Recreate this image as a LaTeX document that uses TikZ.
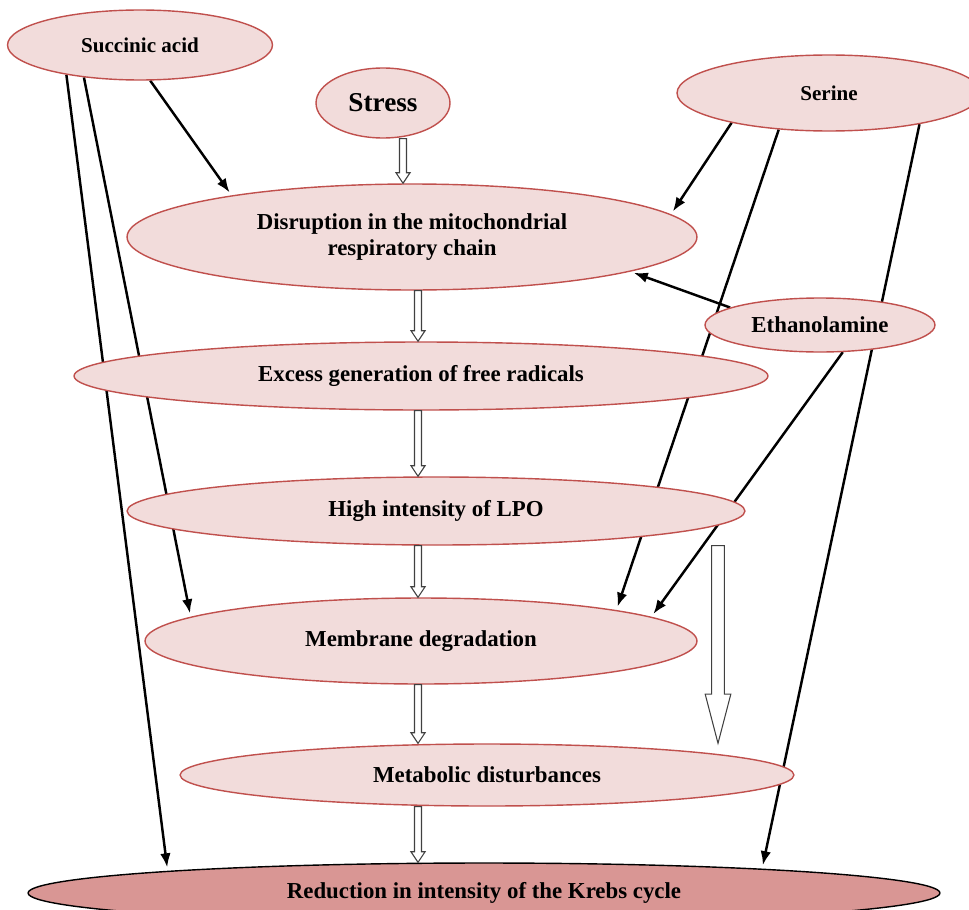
\documentclass[tikz,border=0pt]{standalone}
\usepackage{fontspec}
\setmainfont{Liberation Serif}
\usetikzlibrary{positioning,shapes.geometric,arrows.meta,calc,backgrounds}
\definecolor{bubfill}{HTML}{F2DCDB}
\definecolor{bubline}{HTML}{C0504D}
\definecolor{krebsfill}{HTML}{D99694}

\begin{document}
\begin{tikzpicture}[x=0.02cm, y=-0.02cm,
  bub/.style={ellipse, draw=bubline, fill=bubfill, line width=0.8pt, inner sep=0pt, align=center, font=\bfseries\fontsize{13}{15}\selectfont},
  krebs/.style={bub, draw=black, fill=krebsfill},
  blk/.style={-{Latex[length=8pt,width=6pt]}, line width=1.4pt, shorten >=2pt},
  harrow/.style args={#1/#2/#3}{draw=black!75, fill=white, line width=0.6pt,
    to path={let \p1=(\tikztostart), \p2=(\tikztotarget) in
      (\x1-#1,\y1) -- (\x1-#1,\y2+#3) -- (\x1-#2,\y2+#3) -- (\x1,\y2) -- (\x1+#2,\y2+#3) -- (\x1+#1,\y2+#3) -- (\x1+#1,\y1) -- cycle}},
  hollow/.style={harrow=2pt/4pt/6pt},
  bighollow/.style={harrow=3.6pt/7.3pt/28pt},]
\useasboundingbox (0,0) rectangle (969,909);
%Nodes
\node[bub, minimum width=5.3cm, minimum height=1.4cm, font=\bfseries\fontsize{12}{14}\selectfont] (succ) at (140,45) {Succinic acid};
\node[bub, minimum width=2.68cm, minimum height=1.4cm, font=\bfseries\fontsize{15.5}{17}\selectfont] (stress) at (383,103) {Stress};
\node[bub, minimum width=6.08cm, minimum height=1.52cm, font=\bfseries\fontsize{12}{14}\selectfont] (serine) at (829,93) {Serine};
\node[bub, minimum width=11.4cm, minimum height=2.12cm] (disr) at (412,237) {Disruption in the mitochondrial\\respiratory chain};
\node[bub, minimum width=4.6cm, minimum height=1.08cm] (ethan) at (820,325) {Ethanolamine};
\node[bub, minimum width=13.88cm, minimum height=1.36cm] (excess) at (421,376) {Excess generation of free radicals};
\node[bub, minimum width=12.36cm, minimum height=1.36cm] (lpo) at (436,511) {High intensity of LPO};
\node[bub, minimum width=11.04cm, minimum height=1.72cm] (mem) at (421,641) {Membrane degradation};
\node[bub, minimum width=12.28cm, minimum height=1.24cm] (meta) at (487,775) {Metabolic disturbances};
\node[krebs, minimum width=18.24cm, minimum height=1.2cm] (krebs) at (484,893) {Reduction in intensity of the Krebs cycle};

\coordinate (axs) at (403,0);
\coordinate (axis) at (418,0);
\coordinate (bigax) at (718,0);

%Hollow arrows
\draw[hollow] (stress.south -| axs) to (disr.north -| axs);
\draw[hollow] (disr.south -| axis) to (excess.north -| axis);
\draw[hollow] (excess.south -| axis) to (lpo.north -| axis);
\draw[hollow] (lpo.south -| axis) to (mem.north -| axis);
\draw[hollow] (mem.south -| axis) to (meta.north -| axis);
\draw[hollow] (meta.south -| axis) to (krebs.north -| axis);
\draw[bighollow] (lpo.south -| bigax) to (meta.north -| bigax);

%Lines (behind the ellipses)
\begin{pgfonlayer}{background}
\draw[blk] (succ.-74) -- (disr.167);
\draw[blk] (succ.-150) -- (mem.174);
\draw[blk] (succ.-158) -- (krebs.176);
\draw[blk] (serine.-163) -- (disr.5);
\draw[blk] (serine.-144) -- (mem.9);
\draw[blk] (serine.-19) -- (krebs.5);
\draw[blk] (ethan.169) -- (disr.-9);
\draw[blk] (ethan.-50) -- (mem.6);
\end{pgfonlayer}

\end{tikzpicture}
\end{document}
